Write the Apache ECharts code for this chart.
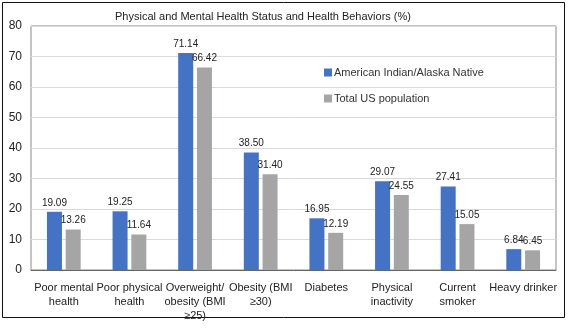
<!DOCTYPE html>
<html><head><meta charset="utf-8">
<script src="https://cdn.jsdelivr.net/npm/echarts@6/dist/echarts.min.js"></script>
<style>html,body{margin:0;padding:0;background:#fff}#c{width:568px;height:328px}</style>
</head><body><div id="c"></div>
<script>
const categories = ["Poor mental\nhealth", "Poor physical\nhealth", "Overweight/\nobesity (BMI\n≥25)", "Obesity (BMI\n≥30)", "Diabetes", "Physical\ninactivity", "Current\nsmoker", "Heavy drinker"];
const aian = [19.09, 19.25, 71.14, 38.50, 16.95, 29.07, 27.41, 6.84];
const totalUS = [13.26, 11.64, 66.42, 31.40, 12.19, 24.55, 15.05, 6.45];
const seriesNames = ["American Indian/Alaska Native", "Total US population"];
const yTicks = {min: 0, max: 80, interval: 10};
const FONT = "'Liberation Sans Narrow', 'Arial Narrow', 'Liberation Sans', Arial, sans-serif";

const chart = echarts.init(document.getElementById('c'), null, {renderer: 'canvas'});
const lbl = {show: true, position: 'top', distance: 4, fontFamily: FONT, fontSize: 10, color: '#222', formatter: p => p.value.toFixed(2)};
chart.setOption({
  animation: false,
  textStyle: {fontFamily: FONT},
  title: {text: 'Physical and Mental Health Status and Health Behaviors (%)', left: 258, top: 6, textAlign: 'center',
    textStyle: {fontFamily: FONT, fontSize: 11, fontWeight: 'normal', color: '#222'}},
  graphic: [{type: 'rect', shape: {x: 2.5, y: 2.5, width: 562, height: 315}, style: {fill: 'none', stroke: '#111', lineWidth: 1}, silent: true}],
  legend: {orient: 'vertical', left: 319, top: 62, itemWidth: 8, itemHeight: 8, itemGap: 15, icon: 'rect',
    textStyle: {fontFamily: FONT, fontSize: 11, color: '#333', padding: [0,0,0,-3]}, data: seriesNames},
  grid: {left: 31, right: 12, top: 26, bottom: 58, show: true, borderColor: '#8a8a8a', borderWidth: 1},
  xAxis: {type: 'category', data: categories,
    axisLine: {lineStyle: {color: '#666'}}, axisTick: {show: false},
    axisLabel: {interval: 0, fontFamily: FONT, fontSize: 11, color: '#222', lineHeight: 14, margin: 11}},
  yAxis: {type: 'value', min: yTicks.min, max: yTicks.max, interval: yTicks.interval,
    axisLine: {show: false}, axisTick: {show: false},
    splitLine: {lineStyle: {color: '#d9d9d9'}},
    axisLabel: {fontFamily: FONT, fontSize: 12, color: '#222', margin: 9}},
  series: [
    {name: seriesNames[0], type: 'bar', data: aian, barWidth: 15, barGap: '25%', itemStyle: {color: '#4472C4'}, label: lbl},
    {name: seriesNames[1], type: 'bar', data: totalUS, barWidth: 15, itemStyle: {color: '#A5A5A5'}, label: lbl}
  ]
});
</script></body></html>
